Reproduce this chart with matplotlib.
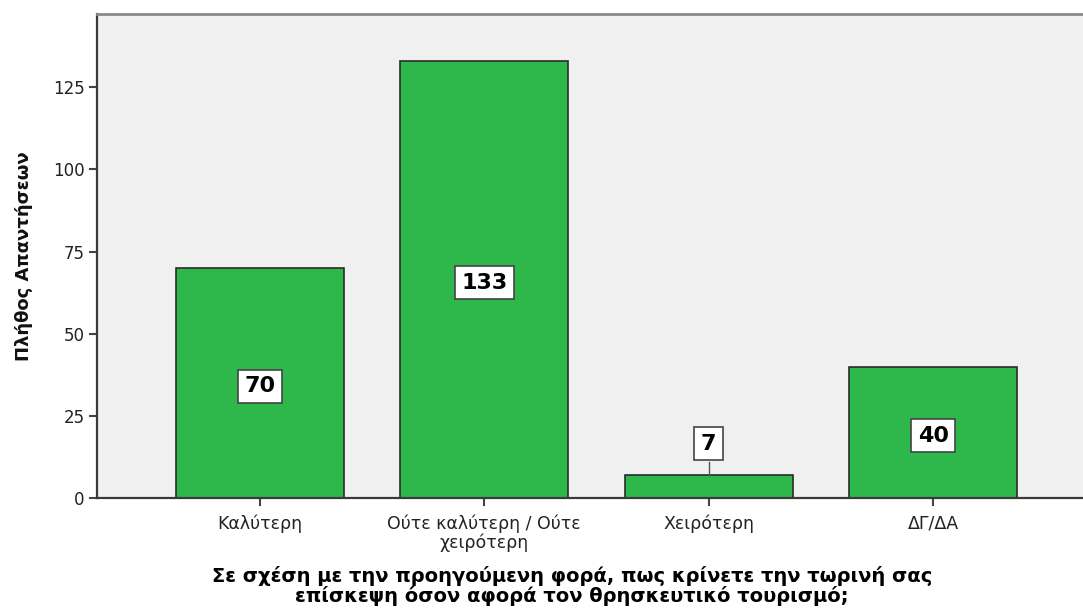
import matplotlib.pyplot as plt

categories = ['Καλύτερη', 'Ούτε καλύτερη / Ούτε\nχειρότερη', 'Χειρότερη', 'ΔΓ/ΔΑ']
counts = [70, 133, 7, 40]
yticks = [0, 25, 50, 75, 100, 125]

plt.rcParams['font.family'] = ['DejaVu Sans']

fig = plt.figure(figsize=(10.83, 6.12), dpi=100)
ax = fig.add_axes([97 / 1083, 1 - 498 / 612, (1096 - 97) / 1083, (498 - 14) / 612])
ax.set_facecolor('#f0f0f0')

x = list(range(len(categories)))
ax.bar(x, counts, width=0.75, color='#2eb84b', edgecolor='#2a2a2a', linewidth=1.2, zorder=2)

for i, c in zip(x, counts):
    if c < 15:
        # small bar: label above with a leader line
        ax.plot([i, i], [c, c + 4], color='#555555', lw=1, zorder=3)
        ypos = c + 9.5
    else:
        ypos = c / 2 - 1
    ax.text(i, ypos, str(c), ha='center', va='center', fontsize=16, fontweight='bold',
            bbox=dict(boxstyle='square,pad=0.3', facecolor='white', edgecolor='#444444', lw=1.2),
            zorder=4)

ax.set_xlim(-0.726, 3.726)
ax.set_ylim(0, 147.3)
ax.set_xticks(x)
ax.set_xticklabels(categories, fontsize=12.5, color='#222222', linespacing=1.0)
ax.set_yticks(yticks)
ax.set_yticklabels([str(t) for t in yticks], fontsize=12, color='#222222')
ax.tick_params(axis='both', direction='out', length=6, width=1.5, color='#444444', pad=3)
ax.tick_params(axis='x', pad=6)

for s in ['left', 'bottom']:
    ax.spines[s].set_color('#3a3a3a')
    ax.spines[s].set_linewidth(1.6)
ax.spines['top'].set_color('#8a8a8a')
ax.spines['top'].set_linewidth(2)
ax.spines['right'].set_visible(False)

ax.set_ylabel('Πλήθος Απαντήσεων', fontsize=13, fontweight='bold', color='#111111')
ax.yaxis.set_label_coords(-64 / 999, 0.5)

fig.text(572 / 1083, 1 - 586 / 612,
         'Σε σχέση με την προηγούμενη φορά, πως κρίνετε την τωρινή σας\nεπίσκεψη όσον αφορά τον θρησκευτικό τουρισμό;',
         ha='center', va='center', fontsize=14, fontweight='bold', linespacing=0.95)

fig.savefig('out.png', dpi=100)
